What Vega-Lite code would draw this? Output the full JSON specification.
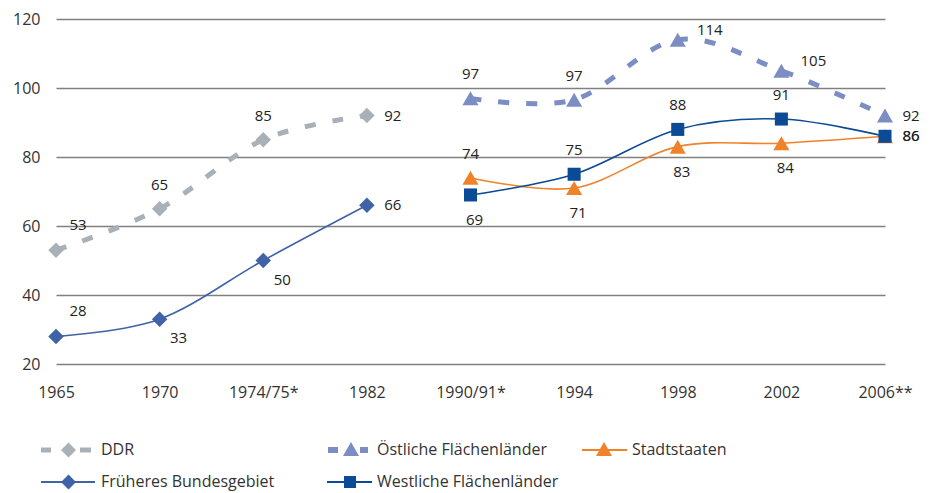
{
  "$schema": "https://vega.github.io/schema/vega-lite/v6.json",
  "autosize": "none",
  "width": 829,
  "height": 345,
  "padding": {"left": 56, "top": 19, "right": 47, "bottom": 129},
  "background": "white",
  "config": {
    "view": {"stroke": null},
    "font": "Open Sans",
    "axis": {"labelFont": "Open Sans", "labelFontSize": 16, "labelColor": "#333333", "domain": false, "ticks": false, "title": null},
    "text": {"font": "Open Sans", "fontSize": 15, "fill": "#222222"}
  },
  "data": {
    "values": [
      {"series": "DDR", "year": "1965", "value": 53},
      {"series": "DDR", "year": "1970", "value": 65},
      {"series": "DDR", "year": "1974/75*", "value": 85},
      {"series": "DDR", "year": "1982", "value": 92},
      {"series": "Früheres Bundesgebiet", "year": "1965", "value": 28},
      {"series": "Früheres Bundesgebiet", "year": "1970", "value": 33},
      {"series": "Früheres Bundesgebiet", "year": "1974/75*", "value": 50},
      {"series": "Früheres Bundesgebiet", "year": "1982", "value": 66},
      {"series": "Östliche Flächenländer", "year": "1990/91*", "value": 97},
      {"series": "Östliche Flächenländer", "year": "1994", "value": 96.6},
      {"series": "Östliche Flächenländer", "year": "1998", "value": 114},
      {"series": "Östliche Flächenländer", "year": "2002", "value": 105},
      {"series": "Östliche Flächenländer", "year": "2006**", "value": 92},
      {"series": "Stadtstaaten", "year": "1990/91*", "value": 74},
      {"series": "Stadtstaaten", "year": "1994", "value": 71},
      {"series": "Stadtstaaten", "year": "1998", "value": 83},
      {"series": "Stadtstaaten", "year": "2002", "value": 84},
      {"series": "Stadtstaaten", "year": "2006**", "value": 86},
      {"series": "Westliche Flächenländer", "year": "1990/91*", "value": 69},
      {"series": "Westliche Flächenländer", "year": "1994", "value": 75},
      {"series": "Westliche Flächenländer", "year": "1998", "value": 88},
      {"series": "Westliche Flächenländer", "year": "2002", "value": 91},
      {"series": "Westliche Flächenländer", "year": "2006**", "value": 86}
    ]
  },
  "transform": [{"calculate": "datum.series + '|' + datum.year", "as": "key"}],
  "encoding": {
    "x": {
      "field": "year", "type": "ordinal",
      "sort": ["1965", "1970", "1974/75*", "1982", "1990/91*", "1994", "1998", "2002", "2006**"],
      "scale": {"type": "point", "padding": 0},
      "axis": {"labelAngle": 0, "labelPadding": 20, "grid": false}
    },
    "y": {
      "field": "value", "type": "quantitative",
      "scale": {"domain": [20, 120], "nice": false, "zero": false},
      "axis": {"values": [20, 40, 60, 80, 100, 120], "grid": true, "gridColor": "#808080", "gridWidth": 1.5, "labelPadding": 16}
    },
    "color": {
      "field": "series", "type": "nominal",
      "scale": {
        "domain": ["DDR", "Östliche Flächenländer", "Stadtstaaten", "Früheres Bundesgebiet", "Westliche Flächenländer"],
        "range": ["#A9B1B8", "#7B8DC3", "#F0832A", "#4062A6", "#0B4A94"]
      },
      "legend": {
        "title": null,
        "orient": "none",
        "legendX": -20,
        "legendY": 423,
        "columns": 3,
        "direction": "horizontal",
        "columnPadding": 16,
        "rowPadding": 16,
        "symbolSize": 100,
        "symbolOffset": 20,
        "labelOffset": 29,
        "labelFont": "Open Sans",
        "labelFontSize": 16,
        "labelColor": "#333333",
        "labelLimit": 400,
        "encode": {
          "labels": {
            "update": {
              "dx": {"signal": "datum.value === 'Östliche Flächenländer' || datum.value === 'Westliche Flächenländer' ? 21 : datum.value === 'Stadtstaaten' ? -8 : 0"}
            }
          },
          "symbols": {
            "update": {
              "shape": {"signal": "datum.value === 'DDR' ? 'M-4.6,-0.5L-2.6,-0.5L-2.6,0.5L-4.6,0.5Z M0.9,-1.5L2.4,0L0.9,1.5L-0.6,0Z M3.2,-0.5L5.4,-0.5L5.4,0.5L3.2,0.5Z' : datum.value === 'Östliche Flächenländer' ? 'M1.8,-0.6L3.8,-0.6L3.8,0.6L1.8,0.6Z M6.4,-1.6L8,1.2L4.8,1.2Z M8.2,-0.6L9.8,-0.6L9.8,0.6L8.2,0.6Z' : datum.value === 'Stadtstaaten' ? 'M-4.2,-0.2L4.8,-0.2L4.8,0.2L-4.2,0.2Z M0.2,-1.6L1.8,1.2L-1.4,1.2Z' : datum.value === 'Früheres Bundesgebiet' ? 'M-4.6,-0.2L6.2,-0.2L6.2,0.2L-4.6,0.2Z M0.9,-1.5L2.4,0L0.9,1.5L-0.6,0Z' : 'M1.6,-0.2L10.6,-0.2L10.6,0.2L1.6,0.2Z M5,-1.2L7.4,-1.2L7.4,1.2L5,1.2Z'"},
              "fill": {"scale": "color", "field": "value"},
              "strokeWidth": {"value": 0},
              "opacity": {"value": 1},
              "size": {"value": 100}
            }
          }
        }
      }
    }
  },
  "layer": [
    {
      "transform": [{"filter": "datum.series === 'DDR' || datum.series === 'Östliche Flächenländer'"}],
      "mark": {"type": "line", "interpolate": "cardinal", "strokeWidth": 5, "strokeDash": [11, 17]}
    },
    {
      "transform": [{"filter": "datum.series !== 'DDR' && datum.series !== 'Östliche Flächenländer'"}],
      "mark": {"type": "line", "interpolate": "cardinal", "strokeWidth": 1.6}
    },
    {
      "transform": [{"filter": "datum.series === 'DDR' || datum.series === 'Früheres Bundesgebiet'"}],
      "mark": {"type": "point", "filled": true, "opacity": 1, "size": 240, "shape": "diamond"}
    },
    {
      "transform": [{"filter": "datum.series === 'Östliche Flächenländer' || datum.series === 'Stadtstaaten'"}],
      "mark": {"type": "point", "filled": true, "opacity": 1, "size": 260, "shape": "triangle-up"}
    },
    {
      "transform": [{"filter": "datum.series === 'Westliche Flächenländer'"}],
      "mark": {"type": "point", "filled": true, "opacity": 1, "size": 170, "shape": "square"}
    },
    {
      "transform": [{"filter": "indexof(['DDR|1970', 'DDR|1974/75*', 'Östliche Flächenländer|1990/91*', 'Östliche Flächenländer|1994', 'Westliche Flächenländer|1994', 'Westliche Flächenländer|1998', 'Westliche Flächenländer|2002', 'Stadtstaaten|1990/91*'], datum.key) >= 0"}],
      "mark": {"type": "text", "dy": -24, "baseline": "middle", "align": "center"},
      "encoding": {"text": {"field": "value", "format": ".0f"}, "color": {"value": "#222222"}}
    },
    {
      "transform": [{"filter": "indexof(['Westliche Flächenländer|1990/91*', 'Stadtstaaten|1994', 'Stadtstaaten|1998', 'Stadtstaaten|2002'], datum.key) >= 0"}],
      "mark": {"type": "text", "dy": 25, "dx": 4, "baseline": "middle", "align": "center"},
      "encoding": {"text": {"field": "value", "format": ".0f"}, "color": {"value": "#222222"}}
    },
    {
      "transform": [{"filter": "indexof(['DDR|1982', 'Früheres Bundesgebiet|1982', 'Östliche Flächenländer|2006**', 'Westliche Flächenländer|2006**', 'Stadtstaaten|2006**'], datum.key) >= 0"}],
      "mark": {"type": "text", "dx": 26, "baseline": "middle", "align": "center"},
      "encoding": {"text": {"field": "value", "format": ".0f"}, "color": {"value": "#222222"}}
    },
    {
      "transform": [{"filter": "indexof(['Östliche Flächenländer|1998', 'Östliche Flächenländer|2002'], datum.key) >= 0"}],
      "mark": {"type": "text", "dx": 32, "dy": -10, "baseline": "middle", "align": "center"},
      "encoding": {"text": {"field": "value", "format": ".0f"}, "color": {"value": "#222222"}}
    },
    {
      "transform": [{"filter": "indexof(['DDR|1965', 'Früheres Bundesgebiet|1965'], datum.key) >= 0"}],
      "mark": {"type": "text", "dx": 22, "dy": -25, "baseline": "middle", "align": "center"},
      "encoding": {"text": {"field": "value", "format": ".0f"}, "color": {"value": "#222222"}}
    },
    {
      "transform": [{"filter": "indexof(['Früheres Bundesgebiet|1970', 'Früheres Bundesgebiet|1974/75*'], datum.key) >= 0"}],
      "mark": {"type": "text", "dx": 19, "dy": 19, "baseline": "middle", "align": "center"},
      "encoding": {"text": {"field": "value", "format": ".0f"}, "color": {"value": "#222222"}}
    }
  ]
}
